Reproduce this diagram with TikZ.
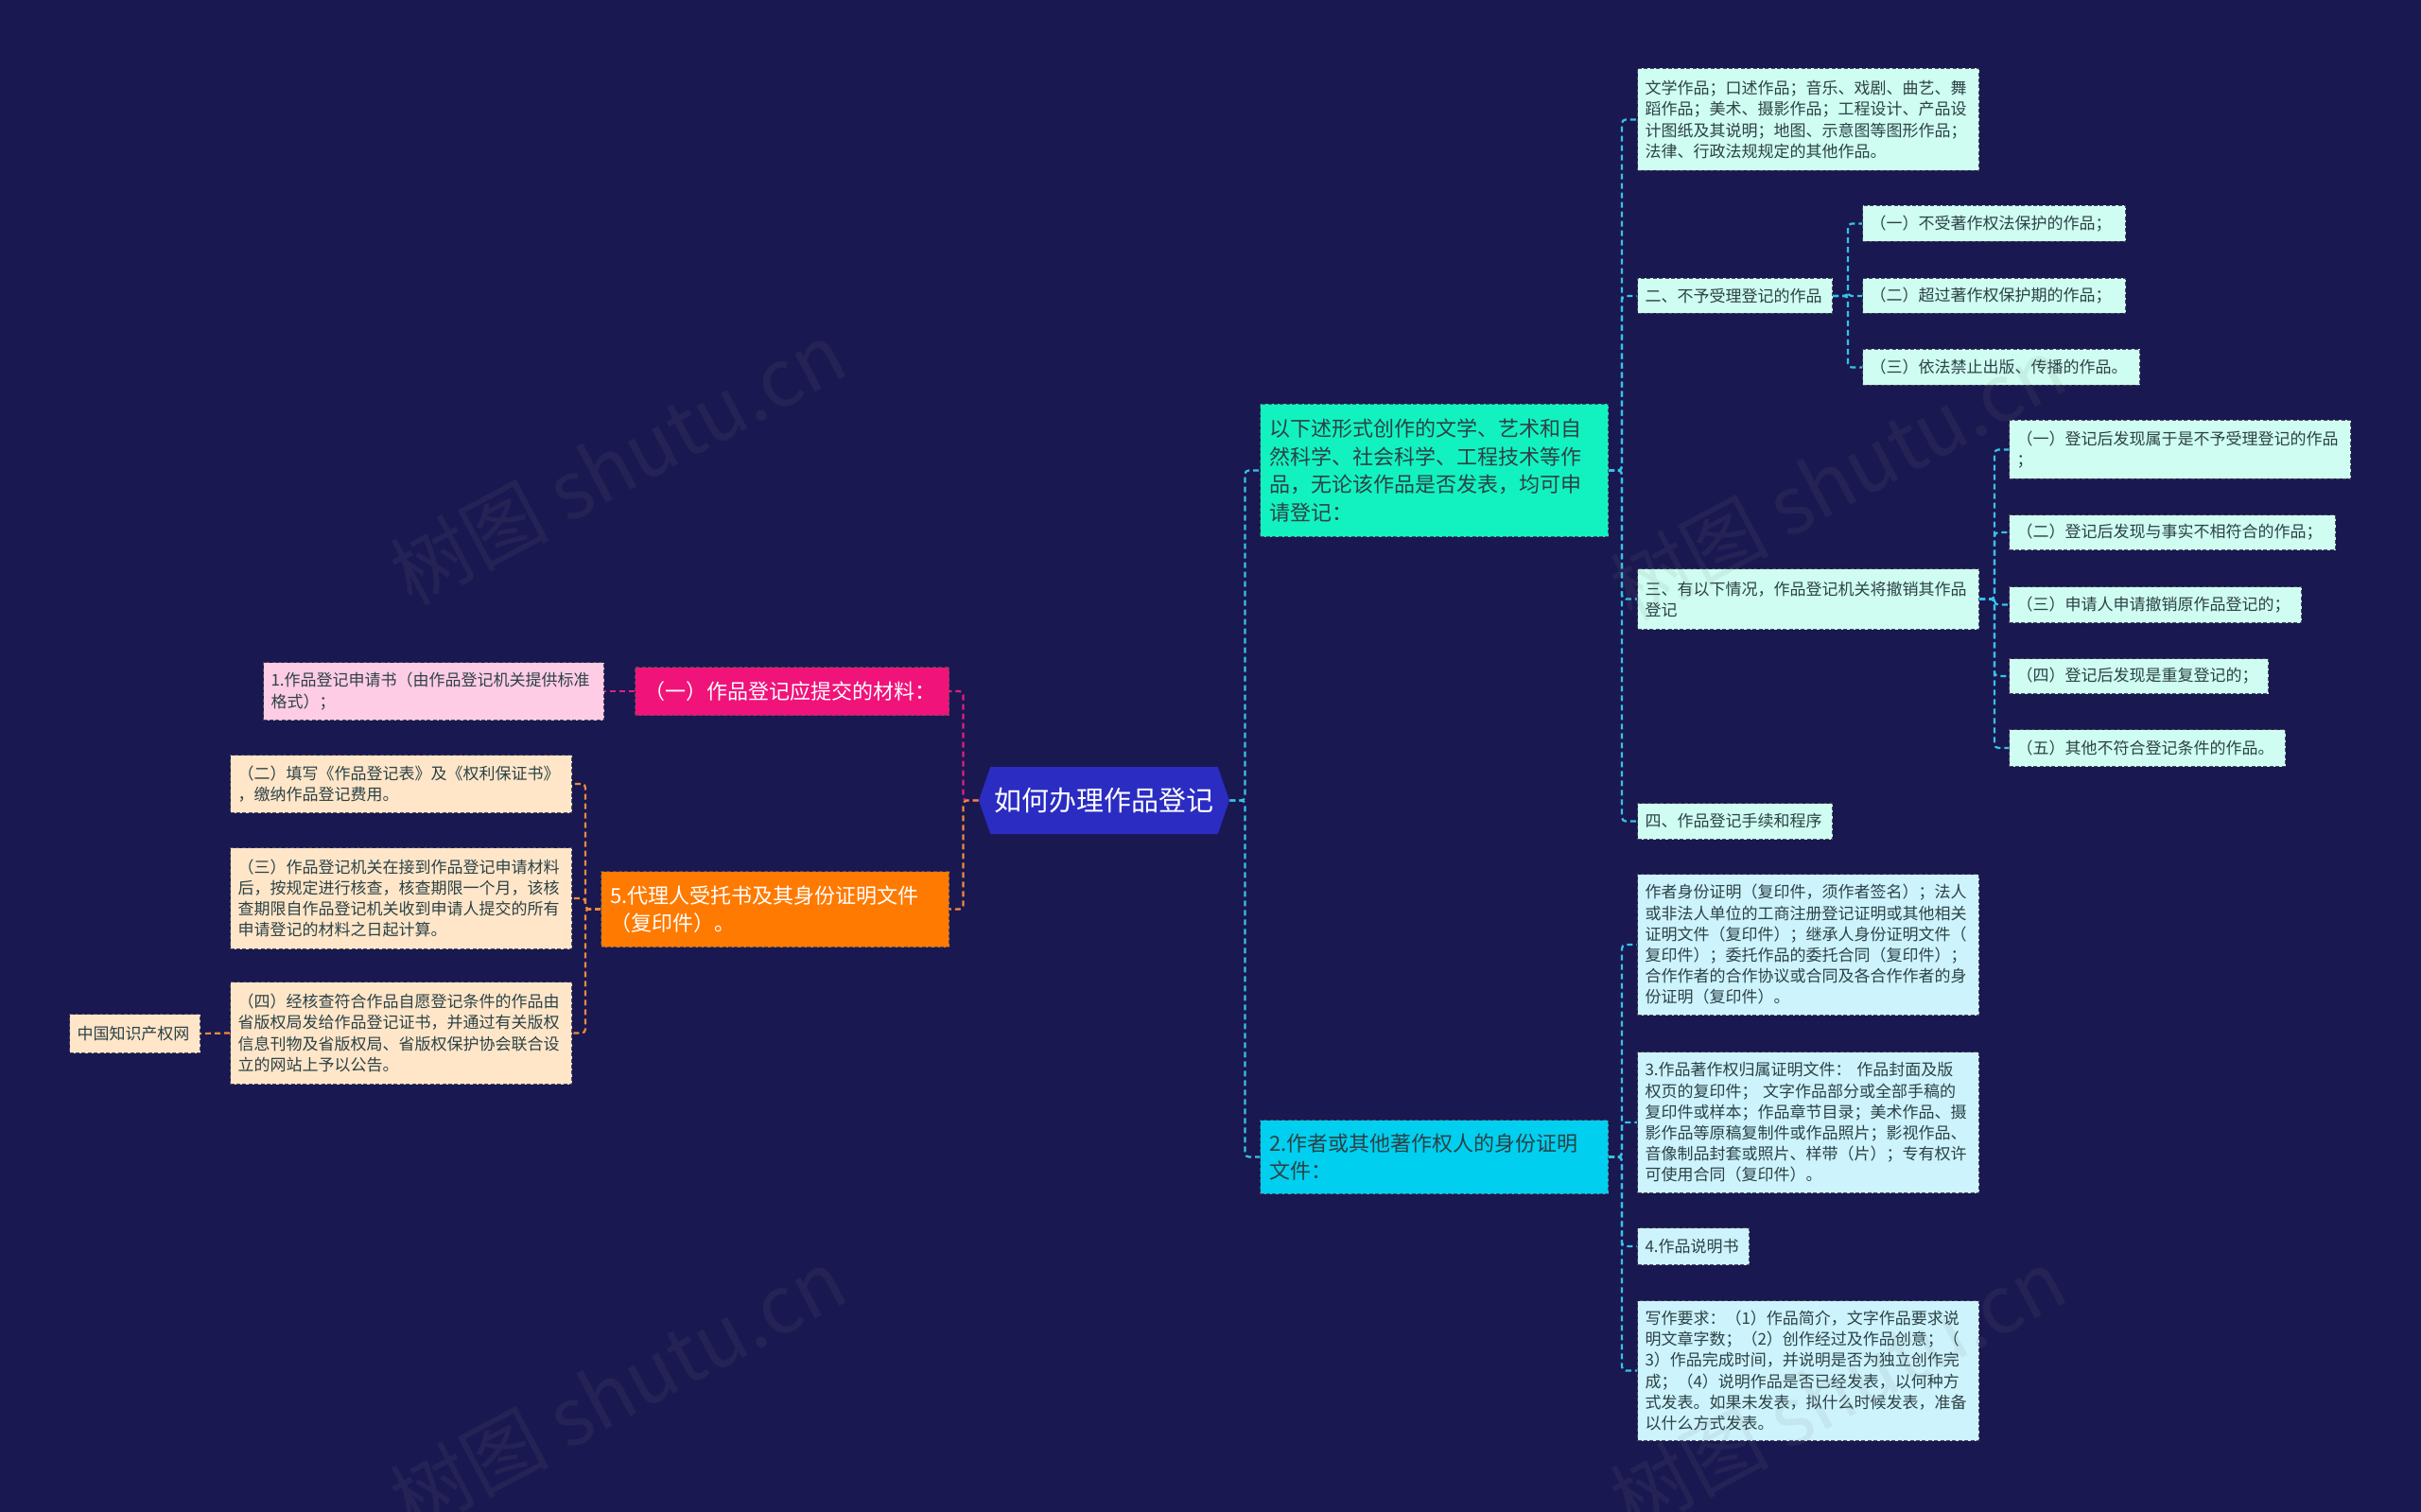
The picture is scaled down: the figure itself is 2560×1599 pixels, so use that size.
\documentclass[tikz,border=0pt]{standalone}
\usepackage{fontspec}
\newfontfamily\cjk{Noto Sans CJK SC}
\usetikzlibrary{shapes.symbols}
\definecolor{bgnavy}{HTML}{1A1850}
\definecolor{rootblue}{HTML}{2A2CC2}
\definecolor{pinkfill}{HTML}{F0137A}
\definecolor{palepink}{HTML}{FFCCE5}
\definecolor{orangefill}{HTML}{FF7A00}
\definecolor{peach}{HTML}{FFE6C9}
\definecolor{aquafill}{HTML}{12F2C0}
\definecolor{mint}{HTML}{CFFDF1}
\definecolor{cyanfill}{HTML}{00CFEF}
\definecolor{paleblue}{HTML}{CDF3FC}
\definecolor{boxedge}{HTML}{4A4A5E}
\definecolor{boxtext}{HTML}{2C4246}
\definecolor{linkcyan}{HTML}{36C3E6}
\definecolor{linkpink}{HTML}{E0207F}
\definecolor{linkorange}{HTML}{F08A3C}
\tikzset{
  rootbox/.style={
    shape = signal,
    signal to = west and east,
    signal pointer angle = 142,
    fill = rootblue,
    text = white,
    inner sep = 0pt,
    minimum width = 132.5pt,
    minimum height = 35.5pt,
    font = \cjk\fontsize{14.5}{17}\selectfont
  },
  box/.style={
    draw = boxedge,
    dash pattern = on 2pt off 1.2pt,
    line width = 0.5pt,
    anchor = north west,
    inner xsep = 4pt,
    inner ysep = 1pt,
    align = left,
    text = boxtext,
    font = \cjk\fontsize{8.5}{11.1}\selectfont
  },
  mintbox/.style={box, fill=mint},
  bluebox/.style={box, fill=paleblue},
  pinkbox/.style={box, fill=palepink},
  peachbox/.style={box, fill=peach},
  branch/.style={box, inner xsep=5pt, font=\cjk\fontsize{11}{14.7}\selectfont},
  link/.style={
    dash pattern = on 3pt off 2pt,
    line width = 1.1pt,
    rounded corners = 2pt
  },
  watermark/.style={
    rotate = 28,
    text = gray,
    opacity = 0.11,
    font = \cjk\fontsize{42}{42}\selectfont
  }
}
\begin{document}
\begin{tikzpicture}[x=0.5pt,y=-0.5pt]
  \fill[bgnavy] (0,0) rectangle (2560,1599);
  \useasboundingbox (0,0) rectangle (2560,1599);
  \node[rootbox] (root) at (1167.5,846.5) {如何办理作品登记};

  % left side
  \node[branch, fill=pinkfill, text=white, text width=156pt, minimum height=25.5pt] (mat) at (671,705) {（一）作品登记应提交的材料：};
  \node[pinkbox, text width=172pt, minimum height=30.5pt] (mat1) at (278,700) {1.作品登记申请书（由作品登记机关提供标准\\格式）；};
  \node[branch, fill=orangefill, text=white, text width=174pt, minimum height=40pt] (agent) at (635,921) {5.代理人受托书及其身份证明文件\\（复印件）。};
  \node[peachbox, text width=172.5pt, minimum height=30.5pt] (agent1) at (243,798) {（二）填写《作品登记表》及《权利保证书》\\，缴纳作品登记费用。};
  \node[peachbox, text width=172.5pt, minimum height=53.5pt] (agent2) at (243,896) {（三）作品登记机关在接到作品登记申请材料\\后，按规定进行核查，核查期限一个月，该核\\查期限自作品登记机关收到申请人提交的所有\\申请登记的材料之日起计算。};
  \node[peachbox, text width=172.5pt, minimum height=54pt] (agent3) at (243,1038) {（四）经核查符合作品自愿登记条件的作品由\\省版权局发给作品登记证书，并通过有关版权\\信息刊物及省版权局、省版权保护协会联合设\\立的网站上予以公告。};
  \node[peachbox, text width=61pt, minimum height=20.5pt] (site) at (73,1072) {中国知识产权网};

  % right side
  \node[branch, fill=aquafill, text width=174pt, minimum height=70pt] (works) at (1332,427) {以下述形式创作的文学、艺术和自\\然科学、社会科学、工程技术等作\\品，无论该作品是否发表，均可申\\请登记：};
  \node[branch, fill=cyanfill, text width=174pt, minimum height=39pt] (ident) at (1332,1184) {2.作者或其他著作权人的身份证明\\文件：};

  \node[mintbox, text width=172.5pt, minimum height=54pt] (w1) at (1731,72) {文学作品；口述作品；音乐、戏剧、曲艺、舞\\蹈作品；美术、摄影作品；工程设计、产品设\\计图纸及其说明；地图、示意图等图形作品；\\法律、行政法规规定的其他作品。};
  \node[mintbox, text width=95pt, minimum height=18.5pt] (w2) at (1731,294) {二、不予受理登记的作品};
  \node[mintbox, text width=131pt, minimum height=19pt] (w21) at (1969,217) {（一）不受著作权法保护的作品；};
  \node[mintbox, text width=131pt, minimum height=18.5pt] (w22) at (1969,294) {（二）超过著作权保护期的作品；};
  \node[mintbox, text width=138.5pt, minimum height=19pt] (w23) at (1969,369) {（三）依法禁止出版、传播的作品。};
  \node[mintbox, text width=172.5pt, minimum height=32pt] (w3) at (1731,601) {三、有以下情况，作品登记机关将撤销其作品\\登记};
  \node[mintbox, text width=172.5pt, minimum height=31pt] (w31) at (2124,444) {（一）登记后发现属于是不予受理登记的作品\\；};
  \node[mintbox, text width=164.5pt, minimum height=18.5pt] (w32) at (2124,544) {（二）登记后发现与事实不相符合的作品；};
  \node[mintbox, text width=146.5pt, minimum height=19pt] (w33) at (2124,620) {（三）申请人申请撤销原作品登记的；};
  \node[mintbox, text width=129pt, minimum height=18.5pt] (w34) at (2124,696) {（四）登记后发现是重复登记的；};
  \node[mintbox, text width=138pt, minimum height=19.5pt] (w35) at (2124,771) {（五）其他不符合登记条件的作品。};
  \node[mintbox, text width=95pt, minimum height=19pt] (w4) at (1731,849) {四、作品登记手续和程序};

  \node[bluebox, text width=172.5pt, minimum height=74.5pt] (id1) at (1731,924) {作者身份证明（复印件，须作者签名）；法人\\或非法人单位的工商注册登记证明或其他相关\\证明文件（复印件）；继承人身份证明文件（\\复印件）；委托作品的委托合同（复印件）；\\合作作者的合作协议或合同及各合作作者的身\\份证明（复印件）。};
  \node[bluebox, text width=172.5pt, minimum height=74.5pt] (id2) at (1731,1112) {3.作品著作权归属证明文件： 作品封面及版\\权页的复印件； 文字作品部分或全部手稿的\\复印件或样本；作品章节目录；美术作品、摄\\影作品等原稿复制件或作品照片；影视作品、\\音像制品封套或照片、样带（片）；专有权许\\可使用合同（复印件）。};
  \node[bluebox, text width=51pt, minimum height=19.5pt] (id3) at (1731,1298) {4.作品说明书};
  \node[bluebox, text width=172.5pt, minimum height=74pt] (id4) at (1731,1375) {写作要求：（1）作品简介，文字作品要求说\\明文章字数；（2）创作经过及作品创意；（\\3）作品完成时间，并说明是否为独立创作完\\成；（4）说明作品是否已经发表，以何种方\\式发表。如果未发表，拟什么时候发表，准备\\以什么方式发表。};

  % connectors
  \draw[link, linkpink] (root.west) -- ++(-16,0) |- (mat.east);
  \draw[link, linkorange] (root.west) -- ++(-16,0) |- (agent.east);
  \draw[link, linkpink] (mat.west) -- (mat1.east);
  \foreach \c in {agent1,agent2,agent3}
    \draw[link, linkorange] (agent.west) -- ++(-16,0) |- (\c.east);
  \draw[link, linkorange] (agent3.west) -- (site.east);
  \foreach \c in {works,ident}
    \draw[link, linkcyan] (root.east) -- ++(16,0) |- (\c.west);
  \foreach \c in {w1,w2,w3,w4}
    \draw[link, linkcyan] (works.east) -- ++(14,0) |- (\c.west);
  \foreach \c in {w21,w22,w23}
    \draw[link, linkcyan] (w2.east) -- ++(16,0) |- (\c.west);
  \foreach \c in {w31,w32,w33,w34,w35}
    \draw[link, linkcyan] (w3.east) -- ++(16,0) |- (\c.west);
  \foreach \c in {id1,id2,id3,id4}
    \draw[link, linkcyan] (ident.east) -- ++(14,0) |- (\c.west);

  % watermarks
  \foreach \wx/\wy in {653/490,1943/506,653/1470,1943/1470}
    \node[watermark] at (\wx,\wy) {树图 shutu.cn};
\end{tikzpicture}
\end{document}
